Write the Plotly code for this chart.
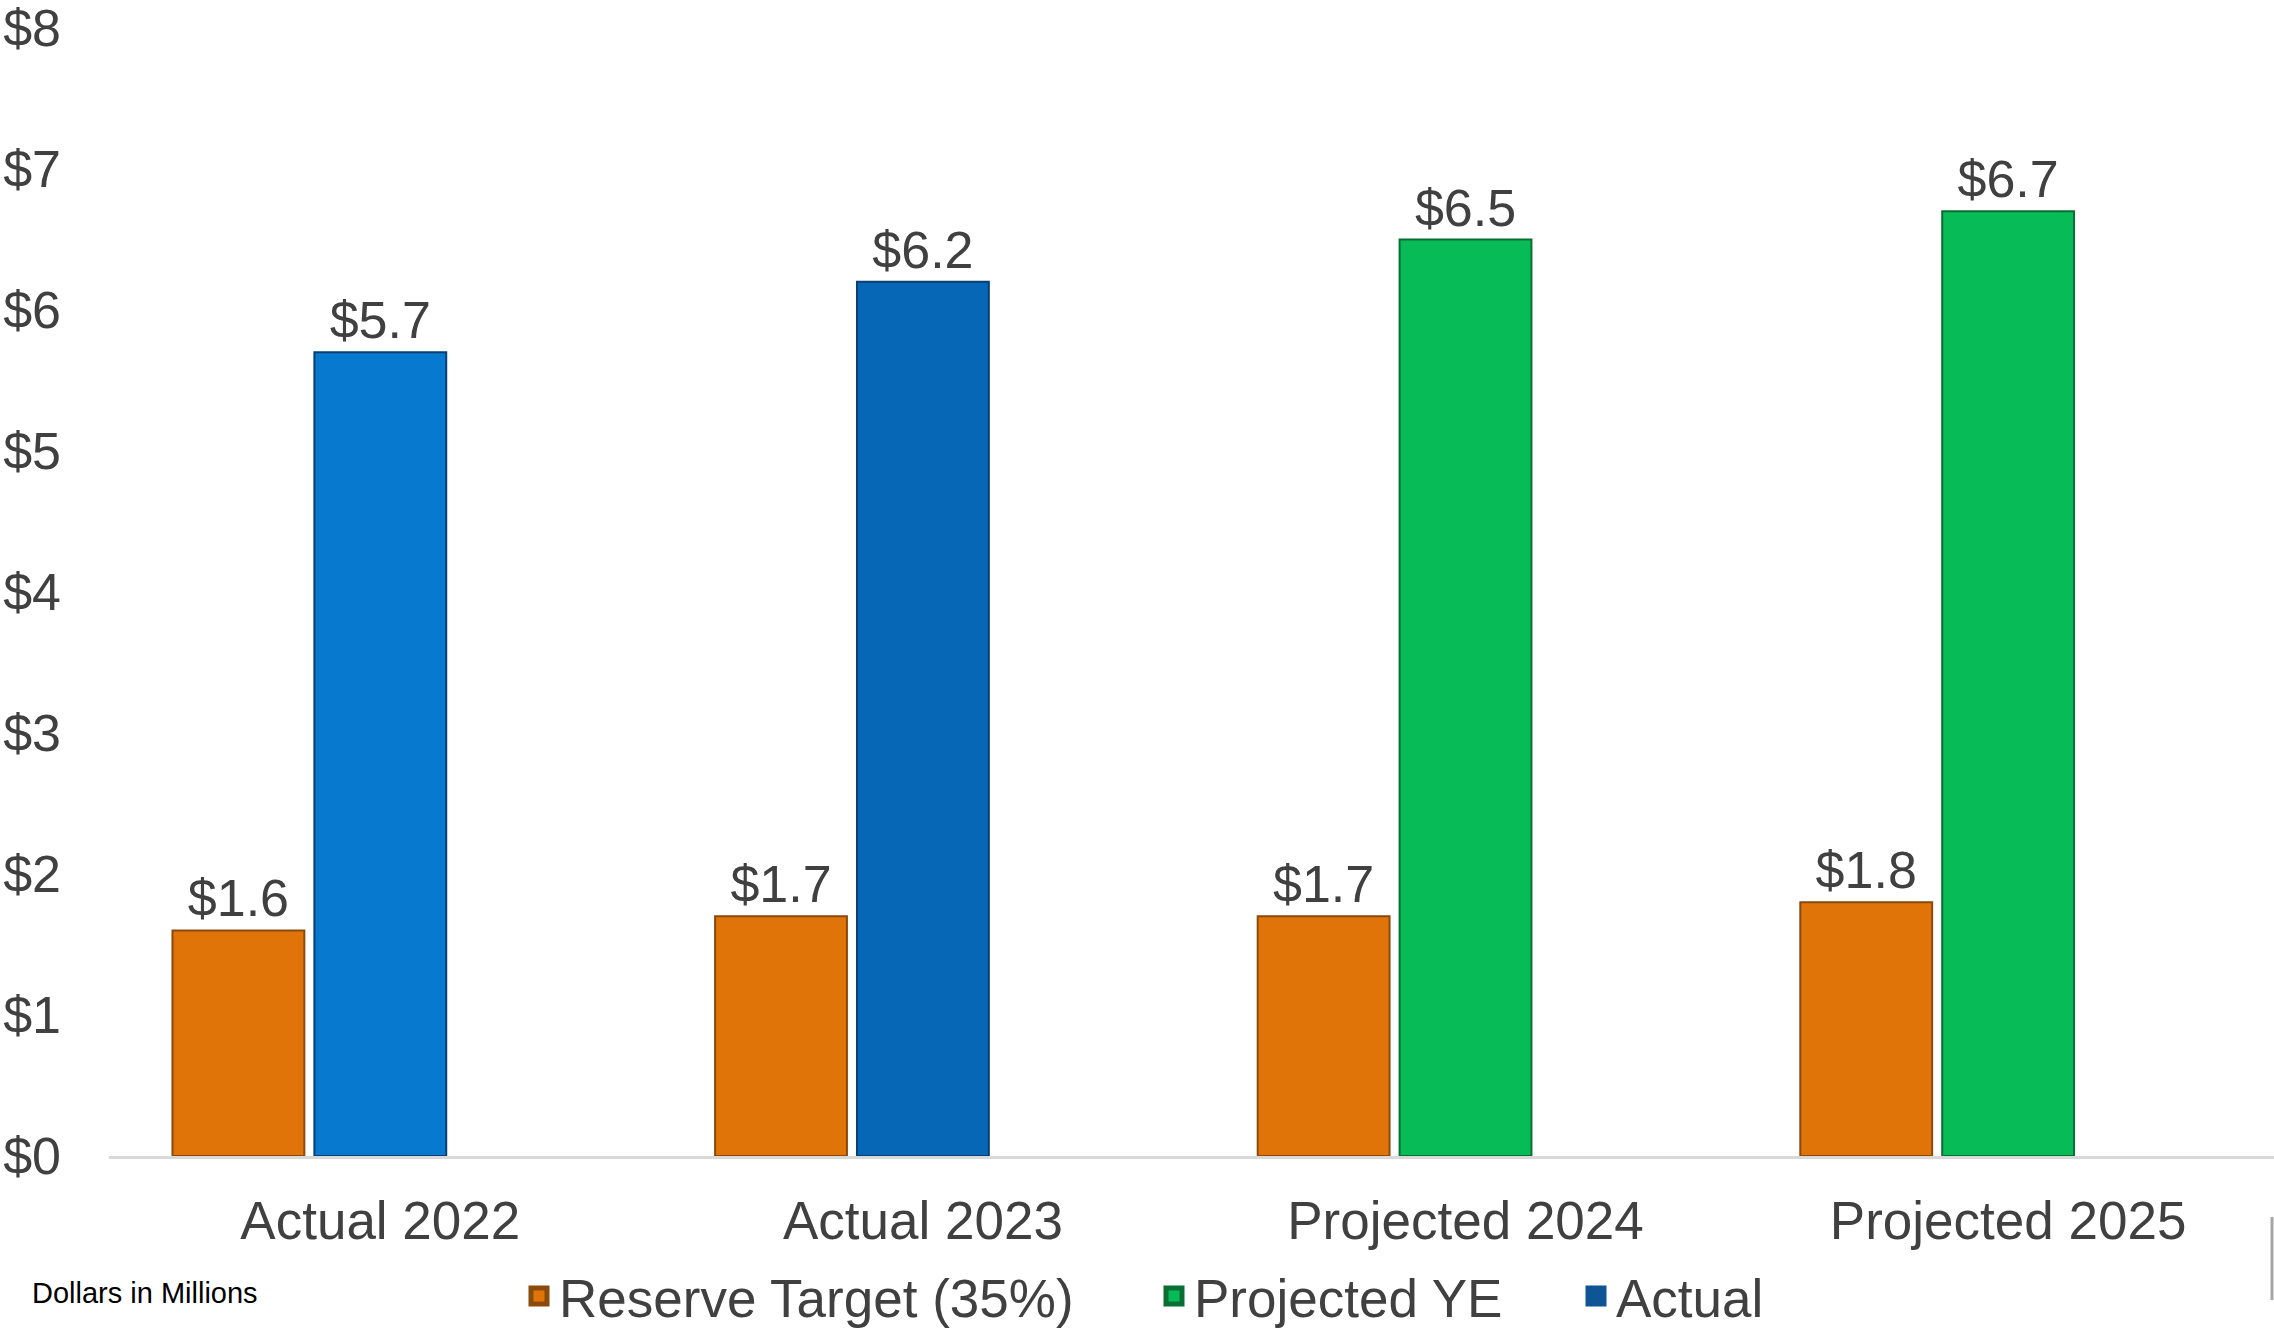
import plotly.graph_objects as go

# ---- data ----
categories = ["Actual 2022", "Actual 2023", "Projected 2024", "Projected 2025"]
reserve_target = [1.6, 1.7, 1.7, 1.8]
projected_ye = [None, None, 6.5, 6.7]
actual = [5.7, 6.2, None, None]
y_ticks = [0, 1, 2, 3, 4, 5, 6, 7, 8]
y_tick_labels = ["$0", "$1", "$2", "$3", "$4", "$5", "$6", "$7", "$8"]

# ---- styling ----
FONT = "Liberation Sans, Arial, sans-serif"
TXT = "#404040"
ORANGE = "#E07408"
ORANGE_EDGE = "#8A4A0C"
GREEN = "#07BC56"
GREEN_EDGE = "#0A6E35"
BLUE_2022 = "#0779CF"
BLUE_2023 = "#0767B7"
BLUE_EDGE = "#0B3F70"
BLUE_LEGEND = "#0F5494"

W, H = 2274, 1331
ML, MR, MT, MB = 109, 0, 28, 175
PW = W - ML - MR
PH = H - MT - MB

BAR_W = 0.243          # bar width in category units
OFF_FIRST = -0.383     # offset of the first bar of each category
OFF_SECOND = -0.1215   # offset of the second bar of each category


def px_x(px):
    return (px - ML) / PW


def px_y(py):
    return (H - MB - py) / PH


fig = go.Figure()

label_font = dict(family=FONT, size=52, color=TXT)

fig.add_trace(go.Bar(
    x=categories, y=reserve_target, name="Reserve Target (35%)",
    width=BAR_W, offset=OFF_FIRST, showlegend=False,
    marker=dict(color=ORANGE, line=dict(color=ORANGE_EDGE, width=2)),
    texttemplate="$%{y:.1f}", textposition="outside", textfont=label_font,
    cliponaxis=False,
))
fig.add_trace(go.Bar(
    x=categories, y=projected_ye, name="Projected YE",
    width=BAR_W, offset=OFF_SECOND, showlegend=False,
    marker=dict(color=GREEN, line=dict(color=GREEN_EDGE, width=2)),
    texttemplate="$%{y:.1f}", textposition="outside", textfont=label_font,
    cliponaxis=False,
))
fig.add_trace(go.Bar(
    x=categories, y=actual, name="Actual",
    width=BAR_W, offset=OFF_SECOND, showlegend=False,
    marker=dict(color=[BLUE_2022, BLUE_2023, BLUE_2022, BLUE_2022],
                line=dict(color=BLUE_EDGE, width=2)),
    texttemplate="$%{y:.1f}", textposition="outside", textfont=label_font,
    cliponaxis=False,
))

# legend entries (separate legends for exact placement)
legend_items = [
    ("Reserve Target (35%)", ORANGE, ORANGE_EDGE, "legend", 519),
    ("Projected YE", GREEN, GREEN_EDGE, "legend2", 1154),
    ("Actual", BLUE_LEGEND, BLUE_LEGEND, "legend3", 1576),
]
legend_layout = {}
for name, col, edge, lg, xpx in legend_items:
    fig.add_trace(go.Scatter(
        x=[None], y=[None], mode="markers", name=name, legend=lg,
        marker=dict(symbol="square", size=16, color=col, line=dict(color=edge, width=5)),
        showlegend=True,
    ))
    legend_layout[lg] = dict(
        x=px_x(xpx), xanchor="left", y=px_y(1296), yanchor="middle",
        orientation="h", font=dict(family=FONT, size=53, color=TXT),
        bgcolor="rgba(0,0,0,0)", borderwidth=0,
    )

fig.update_layout(
    width=W, height=H,
    margin=dict(l=ML, r=MR, t=MT, b=MB, pad=0, autoexpand=False),
    paper_bgcolor="white", plot_bgcolor="white",
    barmode="overlay",
    font=dict(family=FONT, color=TXT),
    xaxis=dict(
        type="category", range=[-0.5, 3.49],
        showline=True, linecolor="#D9D9D9", linewidth=3,
        showgrid=False, ticks="", zeroline=False,
        tickfont=dict(family=FONT, size=53, color=TXT),
        ticklabelstandoff=16,
    ),
    yaxis=dict(
        range=[0, 8], tickvals=y_ticks, ticktext=y_tick_labels,
        showgrid=False, zeroline=False, showline=False, ticks="",
        tickfont=dict(family=FONT, size=52, color=TXT),
        ticklabelstandoff=47, ticklabeloverflow="allow",
    ),
    annotations=[dict(
        text="Dollars in Millions", xref="paper", yref="paper",
        x=px_x(30), y=px_y(1293), xanchor="left", yanchor="middle",
        showarrow=False, font=dict(family=FONT, size=29, color="black"),
    )],
    shapes=[dict(
        type="line", xref="paper", yref="paper",
        x0=px_x(2272), x1=px_x(2272), y0=px_y(1217), y1=px_y(1300),
        line=dict(color="#A6A6A6", width=3),
    )],
    **legend_layout,
)

fig.write_html("out.html")
